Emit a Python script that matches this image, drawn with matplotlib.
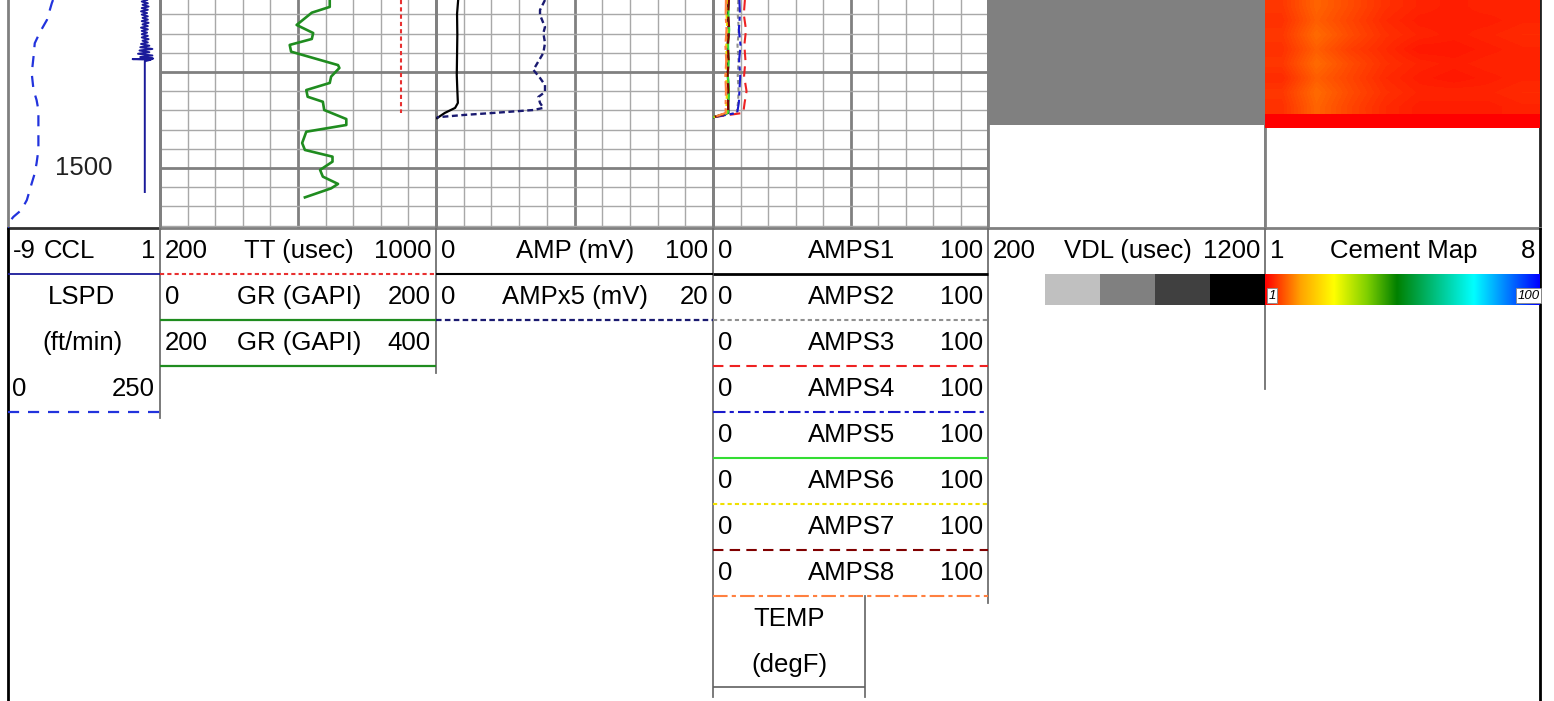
import numpy as np
import matplotlib
matplotlib.use('Agg')
import matplotlib.pyplot as plt
import matplotlib.transforms as mtrans
from matplotlib.colors import LinearSegmentedColormap, ListedColormap, Normalize

plt.rcParams['font.family'] = ['Liberation Sans', 'DejaVu Sans']

# ---------------- data ----------------
depth_top, depth_bottom = 1412.5, 1531.25
depth_labels = [1400, 1500]

lspd_depth = [1412.5, 1414.2, 1422.9, 1429.0, 1435.0, 1442.0, 1450.7, 1459.4, 1464.6, 1469.8,
              1481.9, 1490.6, 1497.5, 1502.8, 1508.0, 1516.7, 1521.9, 1525.4, 1528.5, 1531.2]
lspd_vals = [74, 72, 64, 53, 44, 42, 39, 42, 47, 50, 50, 50, 47, 44, 39, 31, 22, 9, 1, 0]

ccl_depth = [1412.5, 1413.3, 1414.2, 1415.0, 1415.9, 1416.7, 1417.6, 1418.4, 1419.3, 1420.1,
             1421.0, 1421.8, 1422.7, 1423.5, 1424.4, 1425.2, 1426.1, 1426.9, 1427.8, 1428.6,
             1429.5, 1430.3, 1431.2, 1432.0, 1432.9, 1433.7, 1434.6, 1435.4, 1436.3, 1437.1,
             1438.0, 1438.8, 1439.7, 1440.5, 1441.4, 1442.2, 1443.0, 1443.3, 1443.6, 1444.4,
             1445.0, 1460.0, 1480.0, 1500.0, 1512.5]
ccl_vals = [0.15, -0.20, 0.20, -0.15, 0.25, -0.20, 0.20, -0.25, 0.15, -0.20,
            0.20, -0.15, 0.20, -0.20, 0.25, -0.15, 0.20, -0.25, 0.20, -0.20,
            0.15, -0.20, 0.20, -0.20, 0.25, -0.15, 0.20, -0.25, 0.30, -0.30,
            0.50, -0.35, 0.30, -0.45, 0.50, -0.30, 0.55, -0.80, 0.40, 0.0,
            0.0, 0.0, 0.0, 0.0, 0.0]

gr_depth = [1412.5, 1416.1, 1419.1, 1425.5, 1429.7, 1432.8, 1435.9, 1439.4, 1442.7, 1446.4,
            1447.9, 1452.4, 1455.7, 1459.4, 1462.9, 1465.5, 1469.8, 1474.5, 1477.6, 1481.1,
            1487.0, 1490.6, 1494.1, 1496.7, 1501.0, 1504.5, 1508.3, 1510.6, 1515.3]
gr_vals = [123, 123, 110, 99, 111, 110, 94, 95, 111, 129,
           130, 124, 123, 106, 107, 118, 119, 135, 135, 106,
           103, 105, 125, 125, 116, 118, 129, 124, 105]

tt_depth = [1412.5, 1471.3]
tt_vals = [899, 899]

amp_depth = [1412.5, 1419.7, 1430.7, 1441.1, 1451.6, 1459.4, 1466.1, 1468.7, 1471.3, 1474.0]
amp_vals = [8.0, 7.6, 7.7, 7.6, 7.5, 7.7, 7.9, 6.9, 3.2, 0.4]

ampx5_depth = [1412.5, 1417.7, 1420.3, 1426.6, 1429.7, 1434.9, 1440.1, 1448.9, 1453.1, 1456.8,
               1460.4, 1463.0, 1466.1, 1468.7, 1469.8, 1471.2, 1472.4, 1473.6]
ampx5_vals = [7.87, 7.51, 7.51, 7.87, 7.75, 7.87, 7.75, 7.03, 7.51, 7.87,
              7.87, 7.39, 7.51, 7.75, 7.03, 4.38, 1.97, 0.05]

amps_depth = [1412.5, 1420.0, 1428.0, 1436.0, 1444.0, 1452.0, 1460.0, 1466.0, 1471.3, 1473.5]
amps1 = [5.6, 5.4, 5.7, 5.3, 5.5, 5.4, 5.7, 5.5, 5.6, 0.3]
amps2 = [9.2, 9.0, 9.4, 8.9, 9.3, 9.0, 9.3, 9.1, 8.6, 0.3]
amps3 = [11.6, 11.2, 12.0, 11.4, 11.8, 11.3, 12.2, 11.5, 11.0, 0.3]
amps4 = [9.6, 9.8, 9.4, 10.0, 9.5, 9.9, 9.6, 9.4, 8.8, 0.3]
amps5 = [5.8, 5.6, 5.9, 5.5, 5.7, 5.4, 5.8, 5.6, 5.4, 0.3]
amps6 = [5.1, 4.9, 5.2, 4.8, 5.0, 4.7, 5.1, 4.9, 4.8, 0.3]
amps7 = [5.8, 5.5, 5.9, 5.4, 5.7, 5.3, 5.6, 5.5, 5.5, 0.3]
amps8 = [4.7, 4.6, 4.9, 4.5, 4.8, 4.5, 4.7, 4.6, 4.6, 0.3]

vdl_depth = [1412.5, 1477.6]
vdl_range = [200, 1200]
vdl_levels = ['#c0c0c0', '#808080', '#404040', '#000000']

cement_sectors = [1, 8]
cement_top, cement_mid, cement_base = 1412.5, 1472.0, 1479.2
cement_vals = [
    [5.5, 9.0, 7.0, 5.0, 4.0, 3.5, 4.0, 4.0],
    [5.0, 8.5, 6.5, 4.5, 3.5, 3.5, 3.5, 4.0],
    [5.5, 9.5, 7.0, 5.0, 4.0, 3.5, 4.0, 4.5],
    [5.0, 8.5, 6.0, 4.5, 3.0, 3.0, 3.5, 4.0],
    [5.5, 9.5, 7.0, 5.0, 4.0, 3.5, 4.0, 4.0],
    [4.5, 8.5, 6.5, 4.5, 3.5, 3.0, 3.5, 4.0],
    [5.5, 9.5, 7.0, 5.0, 4.0, 4.0, 4.0, 4.5],
    [5.0, 9.0, 6.5, 4.5, 3.5, 3.5, 3.5, 4.0],
]
cement_base_vals = [[1, 1, 1, 1, 1, 1, 1, 1]]
cement_range = [1, 100]
cement_stops = [(0.0, '#ff0000'), (0.13, '#ffa500'), (0.25, '#ffff00'), (0.37, '#80d000'),
                (0.48, '#008000'), (0.76, '#00ffff'), (1.0, '#0000ff')]

# ---------------- layout ----------------
W, H = 1554, 701
TRACK_BOTTOM = 228
FS = 18.5
fig = plt.figure(figsize=(W / 100, H / 100), dpi=100)


def px_axes(x0, y0, x1, y1):
    return fig.add_axes([x0 / W, 1 - y1 / H, (x1 - x0) / W, (y1 - y0) / H])


tracks = [(8, 160), (160, 436), (436, 713), (713, 988), (988, 1265), (1265, 1540)]
axes = []
for i, (x0, x1) in enumerate(tracks):
    ax = px_axes(x0, 0, x1, TRACK_BOTTOM)
    ax.set_ylim(depth_bottom, depth_top)
    ax.set_xlim(0, 10)
    ax.tick_params(which='both', length=0, labelbottom=False, labelleft=False)
    for s in ax.spines.values():
        s.set_color('#808080')
        s.set_linewidth(2)
    ax.spines['top'].set_visible(False)
    if 1 <= i <= 3:
        ax.set_xticks([0, 5, 10])
        ax.set_xticks(range(11), minor=True)
        ax.set_yticks([1450, 1500])
        ax.set_yticks(np.arange(1420, 1531, 10), minor=True)
        ax.grid(which='minor', color='#a8a8a8', lw=1.0)
        ax.grid(which='major', color='#808080', lw=2.0)
        ax.set_axisbelow(True)
    axes.append(ax)
axes[5].spines['right'].set_color('#202020')
axes[0].spines['bottom'].set_color('#303030')


def curve_axes(base, lo, hi):
    t = base.twiny()
    t.set_xlim(lo, hi)
    t.axis('off')
    return t


# Track 1: CCL and LSPD
a = curve_axes(axes[0], 0, 250)
a.plot(lspd_vals, lspd_depth, color='#2233dd', lw=1.6, dashes=(5, 4))
a = curve_axes(axes[0], -9, 1)
a.plot(ccl_vals, ccl_depth, color='#1a1a9a', lw=1.4)
tr = mtrans.blended_transform_factory(axes[0].transAxes, axes[0].transData)
for d in depth_labels:
    if depth_top < d < depth_bottom:
        axes[0].text(0.5, d, str(d), transform=tr, ha='center', va='center',
                     fontsize=FS, color='#202020')

# Track 2: TT and GR
a = curve_axes(axes[1], 200, 1000)
a.plot(tt_vals, tt_depth, color='#e83030', lw=1.5, dashes=(2, 1.5))
a = curve_axes(axes[1], 0, 200)
a.plot(gr_vals, gr_depth, color='#1f8c1f', lw=1.9, solid_joinstyle='round')

# Track 3: AMP / AMPx5
a = curve_axes(axes[2], 0, 100)
a.plot(amp_vals, amp_depth, color='black', lw=1.6)
a = curve_axes(axes[2], 0, 20)
a.plot(ampx5_vals, ampx5_depth, color='#1a1a70', lw=1.7, dashes=(2.5, 1.5))

# Track 4: AMPS1..8
amps_styles = [
    (amps1, dict(color='black', lw=1.6)),
    (amps2, dict(color='#909090', lw=1.5, dashes=(2, 1.5))),
    (amps3, dict(color='#ee2222', lw=1.5, dashes=(5, 3))),
    (amps4, dict(color='#1a1acc', lw=1.5, dashes=(6, 2, 2, 2))),
    (amps5, dict(color='#33dd33', lw=1.5)),
    (amps6, dict(color='#f0e000', lw=1.5, dashes=(2, 1.5))),
    (amps7, dict(color='#800000', lw=1.5, dashes=(5, 3))),
    (amps8, dict(color='#ff8040', lw=1.5, dashes=(7, 2, 2, 2))),
]
a = curve_axes(axes[3], 0, 100)
for vals, st in amps_styles:
    a.plot(vals, amps_depth, **st)

# Track 5: VDL
a = curve_axes(axes[4], vdl_range[0], vdl_range[1])
a.fill_betweenx(vdl_depth, vdl_range[0], vdl_range[1], color=vdl_levels[1], lw=0)

# Track 6: Cement map
cmap = LinearSegmentedColormap.from_list('cem', cement_stops)
norm = Normalize(cement_range[0], cement_range[1])
a = curve_axes(axes[5], cement_sectors[0], cement_sectors[1])
a.imshow(np.array(cement_vals), cmap=cmap, norm=norm, aspect='auto', interpolation='bilinear',
         extent=[cement_sectors[0], cement_sectors[1], cement_mid, cement_top])
a.imshow(np.array(cement_base_vals), cmap=cmap, norm=norm, aspect='auto', interpolation='nearest',
         extent=[cement_sectors[0], cement_sectors[1], cement_base, cement_mid])
a.set_xlim(cement_sectors[0], cement_sectors[1])
a.set_ylim(depth_bottom, depth_top)

# ---------------- header ----------------
hx = fig.add_axes([0, 0, 1, (H - TRACK_BOTTOM) / H])
hx.set_xlim(0, W)
hx.set_ylim(H, TRACK_BOTTOM)
hx.axis('off')

RH = 45.95


def row_line(k):
    return TRACK_BOTTOM + RH * k


def row_mid(k):
    return TRACK_BOTTOM + RH * k + RH / 2


def hline(k, x0, x1, **kw):
    y = row_line(k)
    hx.plot([x0, x1], [y, y], solid_capstyle='butt', dash_capstyle='butt', **kw)


def label_row(k, track, left, title, right, tx=None):
    x0, x1 = tracks[track]
    y = row_mid(k)
    if left:
        hx.text(x0 + 5, y, left, ha='left', va='center', fontsize=FS)
    if right:
        hx.text(x1 - 5, y, right, ha='right', va='center', fontsize=FS)
    hx.text(tx if tx else (x0 + x1) / 2 + 1, y, title, ha='center', va='center', fontsize=FS)


vcol = '#707070'
hx.plot([8, 8], [TRACK_BOTTOM, H], color='black', lw=2)
hx.plot([1540, 1540], [TRACK_BOTTOM, H], color='black', lw=2)
hx.plot([160, 160], [TRACK_BOTTOM, 418], color=vcol, lw=1.3)
hx.plot([436, 436], [TRACK_BOTTOM, 373], color=vcol, lw=1.3)
hx.plot([713, 713], [TRACK_BOTTOM, 697], color=vcol, lw=1.3)
hx.plot([865, 865], [row_line(8), 697], color=vcol, lw=1.3)
hx.plot([988, 988], [TRACK_BOTTOM, 603], color=vcol, lw=1.3)
hx.plot([1265, 1265], [TRACK_BOTTOM, 389], color=vcol, lw=1.3)

# Track 1 header
label_row(0, 0, '-9', 'CCL', '1', tx=69)
hline(1, 8, 160, color='#1a1a9a', lw=1.3)
hx.text(82, row_mid(1), 'LSPD', ha='center', va='center', fontsize=FS)
hx.text(82, row_mid(2), '(ft/min)', ha='center', va='center', fontsize=FS)
hx.text(12, row_mid(3), '0', ha='left', va='center', fontsize=FS)
hx.text(155, row_mid(3), '250', ha='right', va='center', fontsize=FS)
hline(4, 8, 160, color='#2233dd', lw=1.6, dashes=(5, 4))

# Track 2 header
label_row(0, 1, '200', 'TT (usec)', '1000')
hline(1, 160, 436, color='#e83030', lw=1.5, dashes=(2, 1.5))
label_row(1, 1, '0', 'GR (GAPI)', '200')
hline(2, 160, 436, color='#1f8c1f', lw=1.6)
label_row(2, 1, '200', 'GR (GAPI)', '400')
hline(3, 160, 436, color='#1f8c1f', lw=1.6)

# Track 3 header
label_row(0, 2, '0', 'AMP (mV)', '100')
hline(1, 436, 713, color='black', lw=1.5)
label_row(1, 2, '0', 'AMPx5 (mV)', '20')
hline(2, 436, 713, color='#1a1a70', lw=1.6, dashes=(2.5, 1.5))

# Track 4 header
for k, (vals, st) in enumerate(amps_styles):
    label_row(k, 3, '0', 'AMPS%d' % (k + 1), '100')
    st2 = dict(st)
    if k == 0:
        st2['lw'] = 2.0
    hline(k + 1, 713, 988, **st2)
hx.text(789, row_mid(8), 'TEMP', ha='center', va='center', fontsize=FS)
hx.text(789, row_mid(9), '(degF)', ha='center', va='center', fontsize=FS)
hline(10, 713, 865, color='#606060', lw=1.2)

# Track 5 / 6 headers
label_row(0, 4, '200', 'VDL (usec)', '1200')
label_row(0, 5, '1', 'Cement Map', '8')

bar_y0, bar_y1 = row_line(1), row_line(1) + 31
vb = px_axes(1045, bar_y0, 1265, bar_y1)
vb.imshow(np.arange(len(vdl_levels))[None, :], cmap=ListedColormap(vdl_levels),
          aspect='auto', interpolation='nearest')
vb.axis('off')

cb = px_axes(1265, bar_y0, 1540, bar_y1)
cb.imshow(np.linspace(cement_range[0], cement_range[1], 256)[None, :], cmap=cmap, norm=norm,
          aspect='auto', interpolation='bilinear', extent=[0, 1, 0, 1])
cb.set_xlim(0, 1)
cb.set_ylim(0, 1)
cb.axis('off')
bb = dict(boxstyle='square,pad=0.1', fc='white', ec='#888888', lw=0.6)
cb.text(0.012, 0.3, str(cement_range[0]), ha='left', va='center', fontsize=9.5, style='italic', bbox=bb)
cb.text(0.998, 0.3, str(cement_range[1]), ha='right', va='center', fontsize=9.5, style='italic', bbox=bb)

fig.savefig('out.png', dpi=100)
